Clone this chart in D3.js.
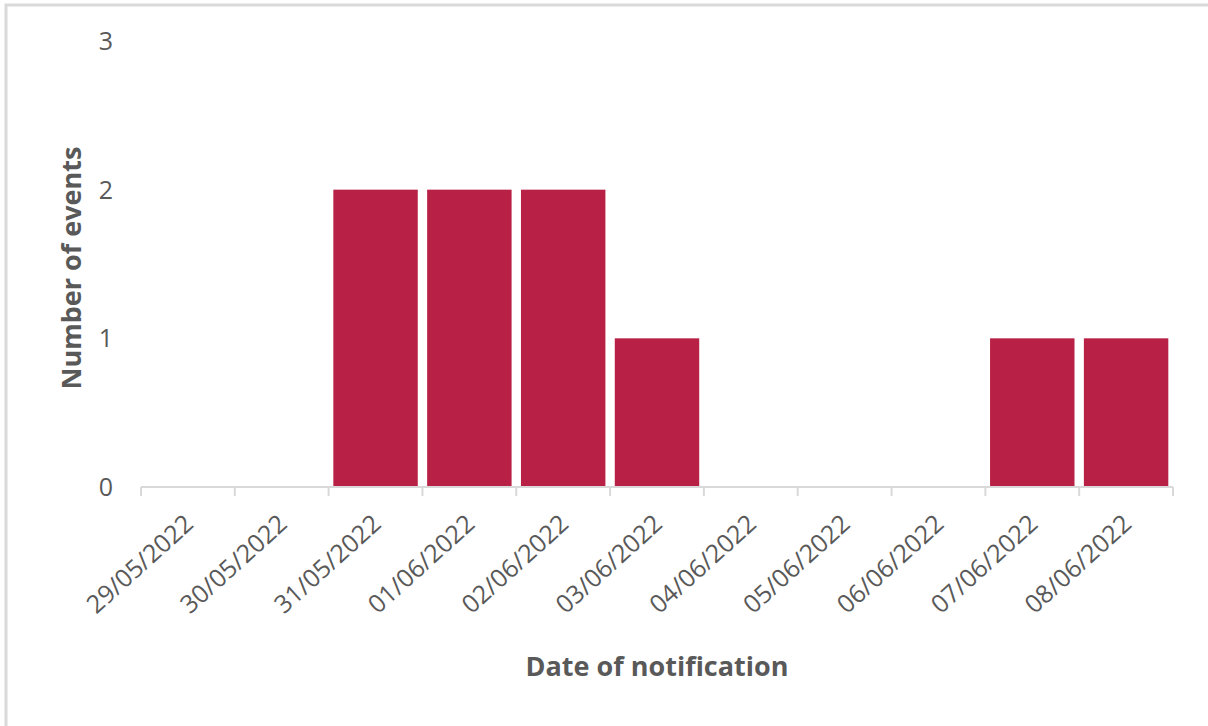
<!DOCTYPE html>
<html>
<head>
<meta charset="utf-8">
<script src="https://cdn.jsdelivr.net/npm/d3@7"></script>
<style>
  html, body { margin: 0; padding: 0; background: #fff; }
  svg { display: block; }
  text { font-family: "Open Sans", "Noto Sans", sans-serif; fill: #595959; }
</style>
</head>
<body>
<svg id="chart" width="1208" height="726"></svg>
<script>
const categories = ["29/05/2022","30/05/2022","31/05/2022","01/06/2022","02/06/2022","03/06/2022","04/06/2022","05/06/2022","06/06/2022","07/06/2022","08/06/2022"];
const values = [0, 0, 2, 2, 2, 1, 0, 0, 0, 1, 1];
const yTicks = [0, 1, 2, 3];
const xTitle = "Date of notification";
const yTitle = "Number of events";

const svg = d3.select("#chart");
const W = 1208, H = 726;
const mLeft = 141, mRight = 1173, mTop = 41, mBottom = 487;

// frame
svg.append("rect").attr("x", 6).attr("y", 5).attr("width", W + 20).attr("height", H + 20)
  .attr("fill", "none").attr("stroke", "#d9d9d9").attr("stroke-width", 3);

const x = d3.scaleBand().domain(categories).range([mLeft, mRight]).paddingInner(0.1).paddingOuter(0.05);
const y = d3.scaleLinear().domain([0, 3]).range([mBottom, mTop]);
const step = x.step();

// bars
svg.append("g").selectAll("rect").data(categories.map((c, i) => ({c, v: values[i]})).filter(d => d.v > 0))
  .join("rect")
  .attr("x", d => x(d.c))
  .attr("width", x.bandwidth())
  .attr("y", d => y(d.v))
  .attr("height", d => y(0) - y(d.v))
  .attr("fill", "#B92045");

// x axis line and ticks
const ax = svg.append("g");
ax.append("line").attr("x1", mLeft).attr("x2", mRight).attr("y1", mBottom).attr("y2", mBottom)
  .attr("stroke", "#d9d9d9").attr("stroke-width", 2);
const tickPos = categories.map(c => x(c) - step * x.paddingInner() / 2).concat([mRight]);
ax.selectAll("line.tk").data(tickPos).join("line").attr("class", "tk")
  .attr("x1", d => d).attr("x2", d => d).attr("y1", mBottom).attr("y2", mBottom + 9)
  .attr("stroke", "#d9d9d9").attr("stroke-width", 2);

// x labels
ax.selectAll("text.xl").data(categories).join("text").attr("class", "xl")
  .attr("text-anchor", "end")
  .attr("transform", d => `translate(${x(d) + x.bandwidth() / 2 + 7},${mBottom + 39}) rotate(-42)`)
  .style("font-size", "25px")
  .text(d => d);

// y labels
svg.append("g").selectAll("text").data(yTicks).join("text")
  .attr("x", 113).attr("y", d => y(d)).attr("dy", "0.36em")
  .attr("text-anchor", "end").style("font-size", "25px")
  .text(d => d);

// titles
svg.append("text").attr("x", (mLeft + mRight) / 2).attr("y", 676)
  .attr("text-anchor", "middle").style("font-size", "27px").style("font-weight", "700")
  .text(xTitle);
svg.append("text").attr("transform", `translate(81,${(mTop + mBottom) / 2 + 4}) rotate(-90)`)
  .attr("text-anchor", "middle").style("font-size", "27px").style("font-weight", "700")
  .text(yTitle);
</script>
</body>
</html>
